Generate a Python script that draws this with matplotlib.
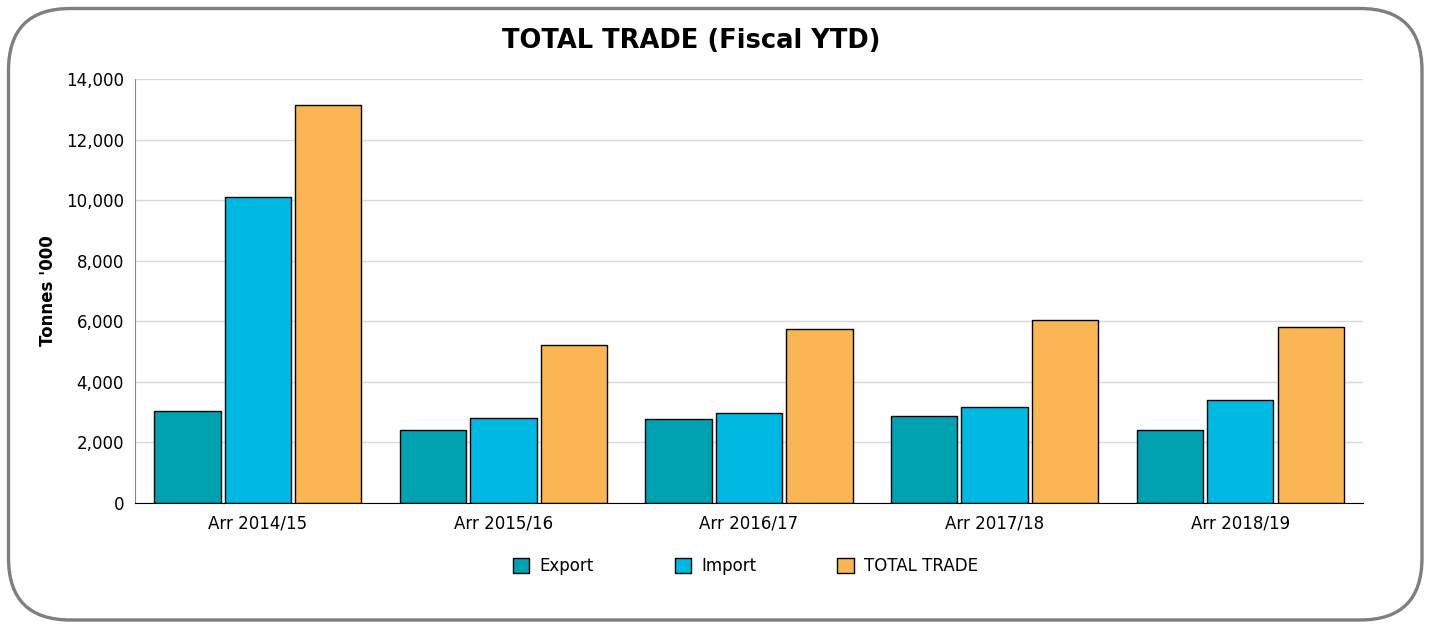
import matplotlib.pyplot as plt
import numpy as np
from matplotlib.patches import FancyBboxPatch
from matplotlib.ticker import FuncFormatter

categories = ["Arr 2014/15", "Arr 2015/16", "Arr 2016/17", "Arr 2017/18", "Arr 2018/19"]
export = [3040, 2400, 2770, 2860, 2400]
imports = [10100, 2810, 2970, 3160, 3400]
total = [13140, 5215, 5745, 6030, 5810]

series = ["Export", "Import", "TOTAL TRADE"]
colors = ["#00A1B0", "#00B9E3", "#F9B653"]

plt.rcParams['font.family'] = ['DejaVu Sans']

fig = plt.figure(figsize=(14.32, 6.29), dpi=100)

# rounded frame round the whole chart, kept behind the axes
frame = FancyBboxPatch((0.085, 0.09), 14.135, 6.115,
                       boxstyle="round,pad=0,rounding_size=0.62",
                       transform=fig.dpi_scale_trans,
                       facecolor="white", edgecolor="#7f7f7f", linewidth=2.4,
                       zorder=-5)
fig.add_artist(frame)

ax = fig.add_axes([0.0943, 0.2003, 0.8575, 0.6741])
ax.set_facecolor("none")

x = np.arange(len(categories))
w = 0.27
step = 0.287
for i, (vals, name, c) in enumerate(zip([export, imports, total], series, colors)):
    ax.bar(x + (i - 1) * step, vals, width=w, color=c, edgecolor="black",
           linewidth=1, label=name, zorder=3)

ax.set_xlim(-0.5, len(categories) - 0.5)
ax.set_ylim(0, 14000)
ax.set_yticks(np.arange(0, 14001, 2000))
ax.yaxis.set_major_formatter(FuncFormatter(lambda v, p: f"{int(v):,}"))
ax.set_xticks(x)
ax.set_xticklabels(categories)
ax.tick_params(axis="y", length=0, labelsize=12, pad=8)
ax.tick_params(axis="x", length=0, labelsize=12, pad=8)
ax.grid(axis="y", color="#d9d9d9", linewidth=1, zorder=0)

for s in ["top", "right"]:
    ax.spines[s].set_visible(False)
ax.spines["left"].set_color("#888888")
ax.spines["bottom"].set_color("black")
ax.spines["bottom"].set_zorder(4)

ax.set_ylabel("Tonnes '000", fontsize=12, fontweight="bold", labelpad=6)
fig.text(0.483, 0.935, "TOTAL TRADE (Fiscal YTD)", ha="center", va="center",
         fontsize=18.5, fontweight="bold")

ax.legend(loc="center", bbox_to_anchor=(0.497, -0.148), ncol=3, frameon=False,
          fontsize=12, handlelength=1.0, handleheight=1.0, columnspacing=4.85,
          handletextpad=0.6)

fig.savefig("out.png", dpi=100)
